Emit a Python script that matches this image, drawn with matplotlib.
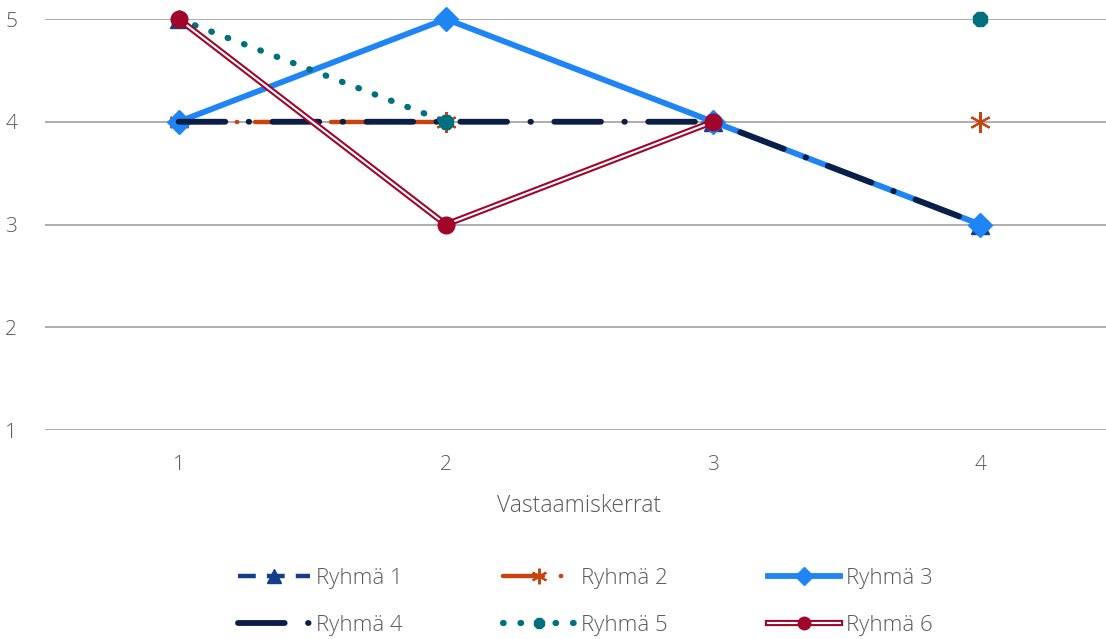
import numpy as np
import matplotlib.pyplot as plt
from matplotlib.lines import Line2D

plt.rcParams['font.family'] = ['Open Sans', 'DejaVu Sans']
plt.rcParams['font.weight'] = 'light'

# data
kerrat = [1, 2, 3, 4]
ryhma1 = [5, np.nan, 4, 3]
ryhma2 = [4, 4, np.nan, 4]
ryhma3 = [4, 5, 4, 3]
ryhma4 = [4, 4, 4, 3]
ryhma5 = [5, 4, np.nan, 5]
ryhma6 = [5, 3, 4, np.nan]

c1 = '#123E8C'
c2 = '#C8430F'
c3 = '#1F85F5'
c4 = '#0B1E45'
c5 = '#00707E'
c6 = '#A0062C'
grey = '#595959'

fig = plt.figure(figsize=(11.06, 6.39), dpi=100)
ax = fig.add_axes([45 / 1106, 1 - 430 / 639, 1069 / 1106, 411 / 639])

x = np.arange(len(kerrat))

l1, = ax.plot(x, ryhma1, color=c1, lw=3.2, linestyle=(0, (4, 2.5)),
              marker='^', markersize=13, clip_on=False)
l2, = ax.plot(x, ryhma2, color=c2, lw=3.2, linestyle=(0, (9, 4, 0.1, 4)),
              dash_capstyle='round', marker=(6, 2, 0), markersize=15,
              markeredgewidth=1.5, clip_on=False)
l3, = ax.plot(x, ryhma3, color=c3, lw=4.2, marker='D', markersize=12,
              clip_on=False)
l4, = ax.plot(x, ryhma4, color=c4, lw=4.2, linestyle=(0, (8, 4, 0.1, 4)),
              dash_capstyle='round', clip_on=False)
l5, = ax.plot(x, ryhma5, color=c5, lw=4.5, linestyle=(0, (0.1, 2.7)),
              dash_capstyle='round', marker='8', markersize=11, clip_on=False)
ax.plot(x, ryhma6, color=c6, lw=4.5, clip_on=False)
ax.plot(x, ryhma6, color='white', lw=1.5, clip_on=False)
ax.plot(x, ryhma6, color=c6, lw=0, marker='o', markersize=12, clip_on=False)

ax.set_xlim(-0.5, 3.5)
ax.set_ylim(1, 5)
ax.set_yticks([1, 2, 3, 4, 5])
ax.set_xticks(x)
ax.set_xticklabels([str(k) for k in kerrat])
ax.grid(axis='y', color='#A0A0A0', lw=1.2)
ax.set_axisbelow(True)
for s in ax.spines.values():
    s.set_visible(False)
ax.tick_params(axis='both', length=0, labelsize=15, colors=grey)
ax.tick_params(axis='x', pad=18)
ax.tick_params(axis='y', pad=20)
ax.set_xlabel('Vastaamiskerrat', fontsize=16.5, color=grey, labelpad=14,
              fontweight='light')

h6 = (Line2D([], [], color=c6, lw=4.5),
      Line2D([], [], color='white', lw=1.5),
      Line2D([], [], color=c6, lw=0, marker='o', markersize=12))
handles = [l1, l4, l2, l5, l3, h6]
labels = ['Ryhmä 1', 'Ryhmä 4', 'Ryhmä 2', 'Ryhmä 5', 'Ryhmä 3', 'Ryhmä 6']
leg = fig.legend(handles, labels, ncol=3, loc='center',
                 bbox_to_anchor=(0.529, 1 - 602 / 639), frameon=False,
                 fontsize=16, handlelength=3.25, handletextpad=0.27,
                 columnspacing=4.5, labelspacing=1.15, markerscale=0.75)
for t in leg.get_texts():
    t.set_color(grey)

fig.savefig('out.png', dpi=100)
